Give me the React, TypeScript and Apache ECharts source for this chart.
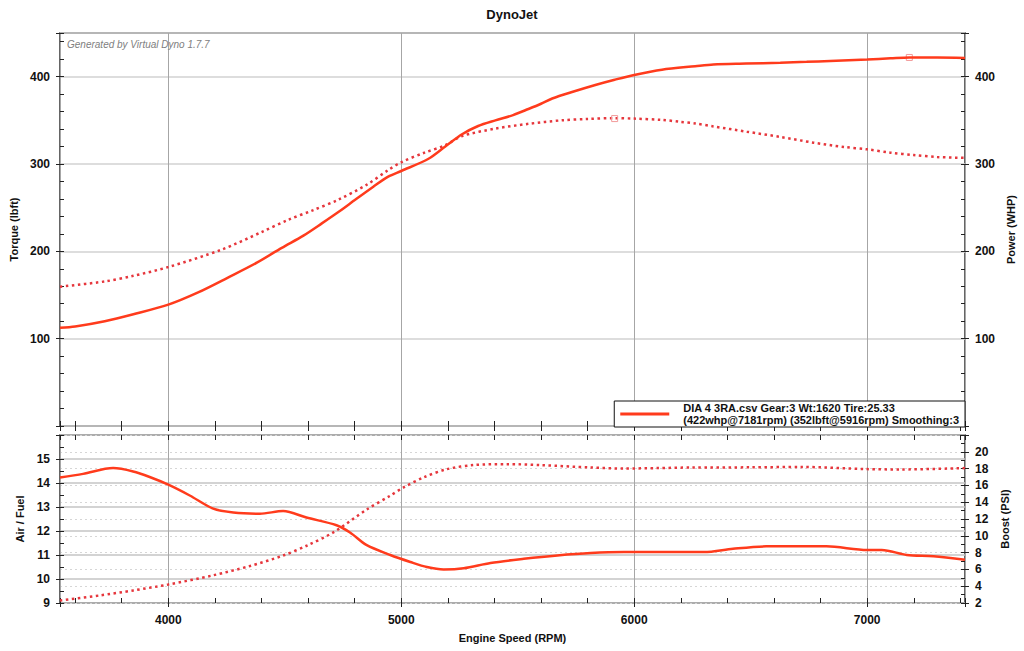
import React, { useEffect, useRef } from "react";
import * as echarts from "echarts";

// ---------- data ----------
const rpmRange = [3535, 7420];

const powerRpm = [3535, 3600, 3727, 3850, 4000, 4128, 4256, 4380, 4487, 4580, 4659, 4730, 4802, 4880, 4944, 5000, 5117, 5189, 5261, 5330, 5404, 5480, 5546, 5600, 5648, 5740, 5833, 5916, 6000, 6119, 6262, 6340, 6480, 6627, 6740, 6841, 7000, 7100, 7181, 7300, 7420];
const powerWhp = [112.5, 114, 120, 128, 139, 153, 170, 187, 204, 218, 232, 245, 259, 274, 285.5, 292, 306, 320, 334, 343.5, 350, 356, 363, 369, 375, 383, 390.5, 396.5, 402, 408, 412, 414, 415, 416, 417, 418, 419.7, 421, 422, 422, 421.5];

const torqueRpm = [3535, 3727, 3850, 4000, 4229, 4400, 4514, 4620, 4729, 4850, 4944, 5000, 5100, 5189, 5261, 5404, 5546, 5689, 5800, 5916, 6000, 6119, 6197, 6262, 6340, 6483, 6627, 6770, 6900, 7000, 7100, 7200, 7300, 7420];
const torqueLbft = [159.5, 165.5, 172, 182, 202, 222, 236, 247, 259, 276, 293, 302, 313, 321.5, 332, 340.5, 346, 350, 351.5, 352.5, 352, 350.5, 348.3, 346.5, 343, 337, 331, 324.4, 319.5, 316.8, 313, 310.3, 308, 307];

const afrRpm = [3535, 3634, 3763, 3849, 3920, 4000, 4092, 4193, 4279, 4393, 4493, 4593, 4722, 4780, 4850, 4953, 5039, 5110, 5182, 5268, 5383, 5526, 5670, 5813, 5956, 6100, 6300, 6424, 6567, 6825, 7000, 7063, 7170, 7285, 7420];
const afrRatio = [14.23, 14.38, 14.62, 14.48, 14.25, 13.93, 13.48, 12.93, 12.77, 12.72, 12.83, 12.56, 12.24, 11.94, 11.42, 11.0, 10.71, 10.5, 10.4, 10.45, 10.67, 10.84, 10.98, 11.08, 11.12, 11.12, 11.12, 11.26, 11.36, 11.36, 11.21, 11.21, 11.0, 10.95, 10.8];

const boostRpm = [3535, 3705, 3850, 4000, 4193, 4350, 4493, 4600, 4708, 4850, 4953, 5010, 5096, 5197, 5311, 5455, 5598, 5813, 5956, 6100, 6243, 6500, 6717, 7000, 7144, 7420];
const boostPsi = [2.3, 2.9, 3.5, 4.2, 5.3, 6.4, 7.65, 8.9, 10.4, 13.1, 14.78, 15.76, 16.95, 17.94, 18.42, 18.53, 18.42, 18.13, 18.01, 18.06, 18.13, 18.15, 18.2, 17.94, 17.9, 18.06];

const powerPeak = [7181, 422];
const torquePeak = [5916, 352];

const torqueRange = [0, 450];
const afrRange = [9, 16];
const boostRange = [2, 22];

const chartTitle = "DynoJet";
const watermark = "Generated by Virtual Dyno 1.7.7";
const runName = "DIA 4 3RA.csv Gear:3 Wt:1620 Tire:25.33";
const runDetail = "(422whp@7181rpm) (352lbft@5916rpm) Smoothing:3";

// ---------- helpers ----------
const FONT = 'Arial, "Liberation Sans", sans-serif';
const pair = (xs: number[], ys: number[]) => xs.map((x, i) => [x, ys[i]]);

const SOLID = "#ff3b1c";
const DOTTED = "#e6363c";

function xTicks(gridIndex: number, position: string) {
  return {
    type: "value",
    gridIndex,
    position,
    min: rpmRange[0],
    max: rpmRange[1],
    minInterval: 200,
    maxInterval: 200,
    axisLine: { show: false },
    axisTick: { show: true, inside: true, length: 5, lineStyle: { color: "#222", width: 1 } },
    axisLabel: { show: false },
    splitLine: { show: false },
  };
}

function yTicks(gridIndex: number, position: string, range: number[], interval: number) {
  return {
    type: "value",
    gridIndex,
    position,
    min: range[0],
    max: range[1],
    interval,
    axisLine: { show: false },
    axisTick: { show: true, inside: true, length: 4, lineStyle: { color: "#222", width: 1 } },
    axisLabel: { show: false },
    splitLine: { show: false },
  };
}

const labelStyle = {
  color: "#111",
  fontFamily: FONT,
  fontWeight: "bold",
  fontSize: 12,
};
const nameStyle = {
  color: "#111",
  fontFamily: FONT,
  fontWeight: "bold",
  fontSize: 11,
};

export default function App() {
  const ref = useRef<HTMLDivElement>(null);

  useEffect(() => {
    document.body.style.margin = "0";
    if (!ref.current) return;
    const chart = echarts.init(ref.current, undefined, { renderer: "svg" });

    const lineCommon = { type: "line", smooth: 0.3, showSymbol: false };

    const option: any = {
      animation: false,
      backgroundColor: "#fff",
      title: [
        {
          text: chartTitle,
          left: "center",
          top: 8,
          padding: 0,
          textStyle: { fontFamily: FONT, fontSize: 13, fontWeight: "bold", color: "#111" },
        },
        {
          text: watermark,
          left: 67,
          top: 39,
          padding: 0,
          textStyle: { fontFamily: FONT, fontSize: 10, fontStyle: "italic", fontWeight: "normal", color: "#808080" },
        },
      ],
      legend: {
        data: [{ name: runName, icon: "rect" }],
        right: 59,
        top: 401,
        selectedMode: false,
        itemWidth: 49,
        itemHeight: 3,
        backgroundColor: "#fff",
        borderColor: "#111",
        borderWidth: 1,
        borderRadius: 0,
        padding: [1, 6, 1, 6],
        formatter: () => runName + "\n" + runDetail,
        textStyle: {
          fontFamily: FONT,
          fontSize: 11,
          fontWeight: "bold",
          color: "#111",
          lineHeight: 12,
          padding: [0, 0, 0, 9],
        },
      },
      grid: [
        { left: 60, right: 59, top: 33, height: 393, show: true, borderColor: "#333", borderWidth: 1.5, backgroundColor: "#fff", outerBoundsMode: "none" },
        { left: 60, right: 59, top: 435, height: 168, show: true, borderColor: "#333", borderWidth: 1.5, backgroundColor: "#fff", outerBoundsMode: "none" },
      ],
      xAxis: [
        xTicks(0, "top"),
        xTicks(0, "bottom"),
        {
          type: "value",
          gridIndex: 0,
          position: "bottom",
          min: rpmRange[0],
          max: rpmRange[1],
          minInterval: 1000,
          maxInterval: 1000,
          axisLine: { show: false },
          axisTick: { show: false },
          axisLabel: { show: false },
          splitLine: { show: true, lineStyle: { color: "#a6a6a6", width: 1 } },
        },
        xTicks(1, "top"),
        xTicks(1, "bottom"),
        {
          type: "value",
          gridIndex: 1,
          position: "bottom",
          min: rpmRange[0],
          max: rpmRange[1],
          minInterval: 1000,
          maxInterval: 1000,
          name: "Engine Speed (RPM)",
          nameLocation: "middle",
          nameGap: 29,
          nameTextStyle: nameStyle,
          axisLine: { show: false },
          axisTick: { show: true, inside: false, length: 4, lineStyle: { color: "#222" } },
          axisLabel: {
            ...labelStyle,
            margin: 11,
            formatter: (v: number) => (v % 1000 === 0 ? String(v) : ""),
          },
          splitLine: { show: true, lineStyle: { color: "#a6a6a6", width: 1 } },
        },
      ],
      yAxis: [
        {
          type: "value",
          gridIndex: 0,
          position: "left",
          min: torqueRange[0],
          max: torqueRange[1],
          interval: 100,
          name: "Torque (lbft)",
          nameLocation: "middle",
          nameGap: 39,
          nameTextStyle: nameStyle,
          axisLine: { show: false },
          axisTick: { show: true, inside: false, length: 4, lineStyle: { color: "#222" } },
          axisLabel: {
            ...labelStyle,
            margin: 10,
            formatter: (v: number) => (v > 0 && v % 100 === 0 && v < torqueRange[1] ? String(v) : ""),
          },
          splitLine: { show: true, lineStyle: { color: "#d2d2d2", width: 1.5 } },
        },
        yTicks(0, "left", torqueRange, 20),
        {
          type: "value",
          gridIndex: 0,
          position: "right",
          min: torqueRange[0],
          max: torqueRange[1],
          interval: 100,
          name: "Power (WHP)",
          nameLocation: "middle",
          nameGap: 39,
          nameTextStyle: nameStyle,
          axisLine: { show: false },
          axisTick: { show: true, inside: false, length: 4, lineStyle: { color: "#222" } },
          axisLabel: {
            ...labelStyle,
            margin: 10,
            formatter: (v: number) => (v > 0 && v % 100 === 0 && v < torqueRange[1] ? String(v) : ""),
          },
          splitLine: { show: false },
        },
        yTicks(0, "right", torqueRange, 20),
        {
          type: "value",
          gridIndex: 1,
          position: "left",
          min: afrRange[0],
          max: afrRange[1],
          interval: 1,
          name: "Air / Fuel",
          nameLocation: "middle",
          nameGap: 34,
          nameTextStyle: nameStyle,
          axisLine: { show: false },
          axisTick: { show: true, inside: false, length: 4, lineStyle: { color: "#222" } },
          axisLabel: {
            ...labelStyle,
            margin: 10,
            formatter: (v: number) => (v < afrRange[1] ? String(v) : ""),
          },
          splitLine: { show: true, lineStyle: { color: "#c4c4c4", width: 1.5 } },
        },
        yTicks(1, "left", afrRange, 0.5),
        {
          type: "value",
          gridIndex: 1,
          position: "right",
          min: boostRange[0],
          max: boostRange[1],
          interval: 2,
          name: "Boost (PSI)",
          nameLocation: "middle",
          nameGap: 31,
          nameTextStyle: nameStyle,
          axisLine: { show: false },
          axisTick: { show: true, inside: false, length: 4, lineStyle: { color: "#222" } },
          axisLabel: {
            ...labelStyle,
            margin: 10,
            formatter: (v: number) => (v < boostRange[1] ? String(v) : ""),
          },
          splitLine: { show: true, lineStyle: { color: "#d6d6d6", width: 1, type: [2, 3] } },
        },
        yTicks(1, "right", boostRange, 1),
      ],
      series: [
        {
          ...lineCommon,
          name: runName,
          xAxisIndex: 2,
          yAxisIndex: 2,
          data: pair(powerRpm, powerWhp),
          color: SOLID,
          lineStyle: { color: SOLID, width: 2.5 },
          markPoint: {
            symbol: "rect",
            symbolSize: 6,
            label: { show: false },
            itemStyle: { color: "rgba(255,255,255,0)", borderColor: "#f29a9a", borderWidth: 1 },
            data: [{ coord: powerPeak }],
          },
          z: 5,
        },
        {
          ...lineCommon,
          name: "Torque",
          xAxisIndex: 2,
          yAxisIndex: 0,
          data: pair(torqueRpm, torqueLbft),
          color: DOTTED,
          lineStyle: { color: DOTTED, width: 2.5, type: [2.5, 3.5] },
          markPoint: {
            symbol: "rect",
            symbolSize: 6,
            label: { show: false },
            itemStyle: { color: "rgba(255,255,255,0)", borderColor: "#f29a9a", borderWidth: 1 },
            data: [{ coord: torquePeak }],
          },
          z: 4,
        },
        {
          ...lineCommon,
          name: "Air / Fuel",
          xAxisIndex: 5,
          yAxisIndex: 4,
          data: pair(afrRpm, afrRatio),
          color: SOLID,
          lineStyle: { color: SOLID, width: 2.5 },
          z: 5,
        },
        {
          ...lineCommon,
          name: "Boost",
          xAxisIndex: 5,
          yAxisIndex: 6,
          data: pair(boostRpm, boostPsi),
          color: DOTTED,
          lineStyle: { color: DOTTED, width: 2.5, type: [2.5, 3.5] },
          z: 4,
        },
      ],
    };

    chart.setOption(option);
    return () => chart.dispose();
  }, []);

  return <div ref={ref} style={{ width: 1024, height: 651 }} />;
}
